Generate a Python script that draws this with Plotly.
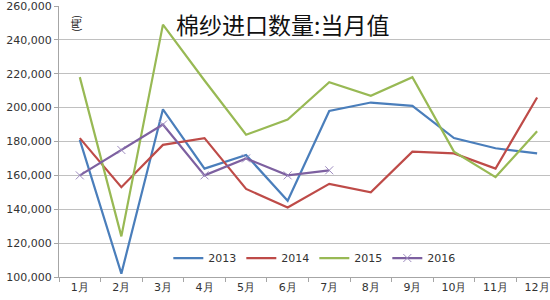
import plotly.graph_objects as go

months = ["1月", "2月", "3月", "4月", "5月", "6月", "7月", "8月", "9月", "10月", "11月", "12月"]
s2013 = [181000, 102000, 199000, 164000, 172000, 145000, 198000, 203000, 201000, 182000, 176000, 173000]
s2014 = [182000, 153000, 178000, 182000, 152000, 141000, 155000, 150000, 174000, 173000, 164000, 206000]
s2015 = [218000, 124000, 249000, 216000, 184000, 193000, 215000, 207000, 218000, 174000, 159000, 186000]
s2016 = [160000, 175000, 190000, 160000, 170000, 160000, 163000]

series = [
    ("2013", s2013, "#4a7ebb", None),
    ("2014", s2014, "#be4b48", None),
    ("2015", s2015, "#98b954", None),
    ("2016", s2016, "#7d60a0", "x-thin"),
]

fig = go.Figure()
for name, vals, color, sym in series:
    if sym:
        kw = dict(mode="lines+markers",
                  marker=dict(symbol=sym, size=8, line=dict(width=1, color="#9e8cc0")))
    else:
        kw = dict(mode="lines")
    fig.add_trace(go.Scatter(x=months[:len(vals)], y=vals, name=name,
                             line=dict(color=color, width=2.2), **kw))

L, R, T, B = 59, 0, 4, 23
pw = 550 - L - R
ph = 300 - T - B


def px2paper(px, py):
    return (px - L) / pw, 1 - (py - T) / ph


tx, ty = px2paper(282, 22)
ux, uy = px2paper(76, 22)

fig.update_layout(
    width=550, height=300,
    margin=dict(l=L, r=R, t=T, b=B),
    paper_bgcolor="white", plot_bgcolor="white",
    font=dict(family="DejaVu Sans", size=11, color="#333333"),
    showlegend=True,
    legend=dict(orientation="h", x=0.52, xanchor="center", y=0.07, yanchor="middle",
                bgcolor="rgba(0,0,0,0)", font=dict(size=11, color="#333333"),
                itemwidth=30, traceorder="normal"),
    xaxis=dict(type="category", range=[-0.5, 11.31], showgrid=False,
               showline=True, linecolor="#a6a6a6", linewidth=1,
               ticks="outside", tickson="boundaries", ticklen=4, tickcolor="#a6a6a6",
               tickfont=dict(size=11, color="#333333")),
    yaxis=dict(range=[100000, 260000], dtick=20000, tickformat=",",
               showgrid=True, gridcolor="#c0c0c0", gridwidth=1,
               showline=True, linecolor="#a6a6a6", linewidth=1,
               ticks="outside", ticklen=4, tickcolor="#a6a6a6",
               ticklabeloverflow="allow",
               tickfont=dict(size=11, color="#333333"), zeroline=False),
    annotations=[
        dict(text="棉纱进口数量:当月值", x=tx, y=ty, xref="paper", yref="paper",
             xanchor="center", yanchor="middle", showarrow=False,
             font=dict(family="Noto Sans CJK SC", size=23, color="#111111")),
        dict(text="(吨)", x=ux, y=uy, xref="paper", yref="paper",
             xanchor="center", yanchor="middle", showarrow=False, textangle=-90,
             font=dict(family="Noto Sans CJK SC", size=10, color="#111111")),
    ],
)

fig.write_html("out.html")
